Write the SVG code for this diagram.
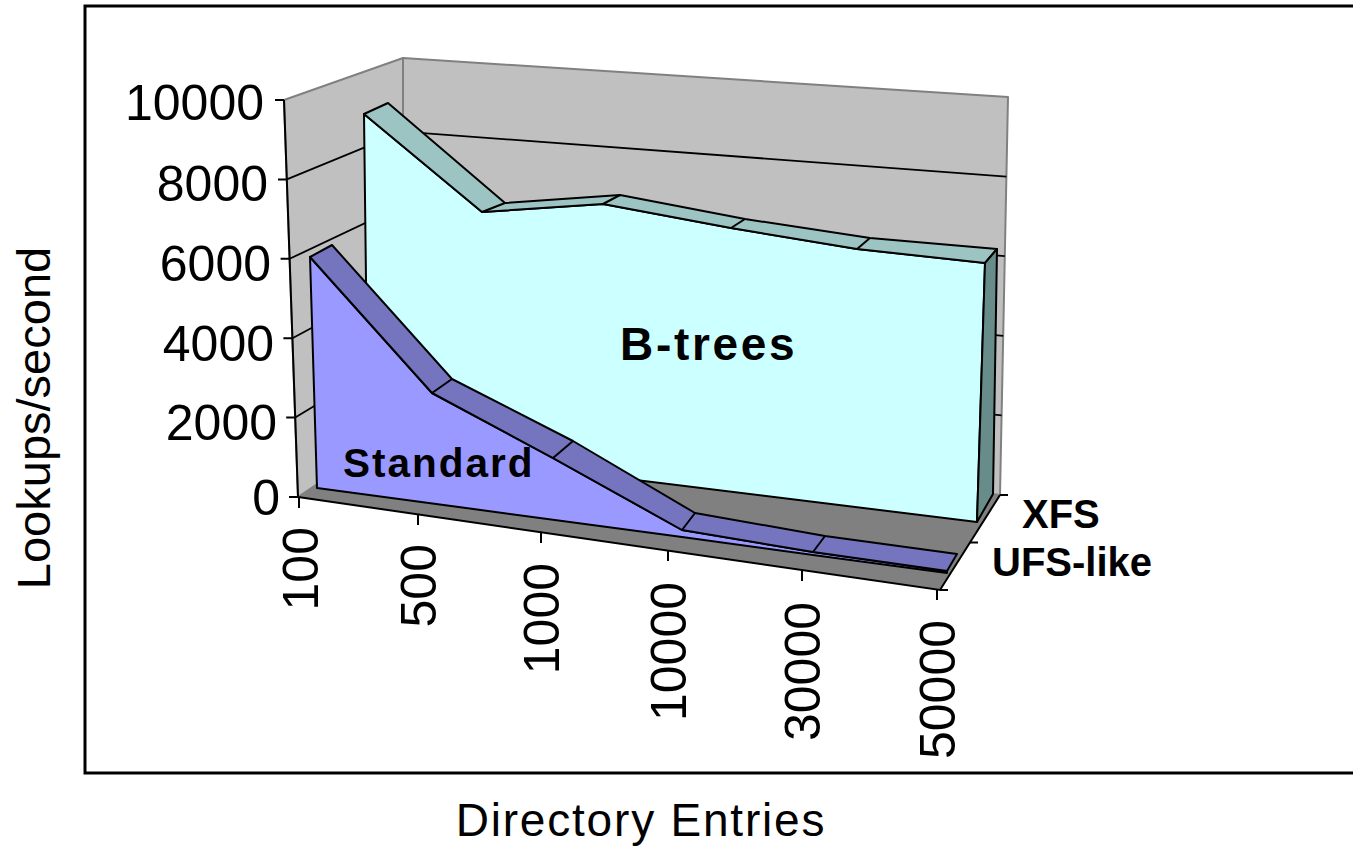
<svg xmlns="http://www.w3.org/2000/svg" width="1353" height="846" viewBox="0 0 1353 846">
<style>
text{font-family:"Liberation Sans",Arial,sans-serif;fill:#000}
.tk{font-size:50px}
.bold{font-weight:bold}
.wall{fill:#C0C0C0;stroke:#808080;stroke-width:2;stroke-linejoin:round}
.floor{fill:#808080;stroke:none}
.grid{stroke:#000;stroke-width:1.8;fill:none}
.edge{stroke:#000;stroke-width:2;stroke-linejoin:round}
.ax{stroke:#000;stroke-width:2;fill:none}
</style>
<rect id="frame" x="85" y="6" width="1300" height="767" fill="#fff" stroke="#000" stroke-width="3"/>
<g id="walls">
<polygon class="wall" points="284,100 403,58 403,426 298,497"/>
<polygon class="wall" points="403,58 1008,97 1000,495 403,426"/>
<polygon class="floor" points="298,497 403,426 1000,495 940,590"/>
</g>
<g id="gridlines">
<polyline class="grid" points="286.8,179.4 403,131.6 1006.4,176.6"/>
<polyline class="grid" points="289.6,258.8 403,205.2 1004.8,256.2"/>
<polyline class="grid" points="292.4,338.2 403,278.8 1003.2,335.8"/>
<polyline class="grid" points="295.2,417.6 403,352.4 1001.6,415.4"/>
</g>
<g id="series-btrees">
<polygon class="edge" fill="#CCFFFF" points="364,114 482,212 603,204 731,228 857,249 985,263 977,522 368,447"/>
<polygon class="edge" fill="#9CC4C2" points="364,114 388,103 505,203 620,195 745,219 870,238 997,249 985,263 857,249 731,228 603,204 482,212"/>
<polygon class="edge" fill="#678C89" points="985,263 997,249 993,494 977,522"/>
<path class="edge" fill="none" d="M482,212 L505,203 M603,204 L620,195 M731,228 L745,219 M857,249 L870,238"/>
</g>
<g id="series-standard">
<polygon class="edge" fill="#9999FF" points="310,257 432,393 553,458 682,530 813,552 947,571 947,573 813,555 682,537 317,488"/>
<polygon class="edge" fill="#7474BF" points="310,257 332,245 452,379 573,441 695,513 825,536 957,554 947,571 813,552 682,530 553,458 432,393"/>
<path class="edge" fill="none" d="M432,393 L452,379 M553,458 L573,441 M682,530 L695,513 M813,552 L825,536"/>
</g>
<g id="axes">
<path class="ax" d="M284,100 L298,497 M298,497 L940,590 L1000,495"/>
<path class="ax" d="M275,100 H284 M278,179.4 H286.8 M280.6,258.8 H289.6 M283.4,338.2 H292.4 M286.2,417.6 H295.2 M289,497 H298"/>
<path class="ax" d="M299,497 V508 M418,514.4 V525 M541,532.2 V543 M668,550.6 V561 M802,570 V581 M937,589.6 V600"/>
<path class="ax" d="M940,590 H948 M970,542.5 H978 M1000,495 H1008"/>
</g>
<g id="labels">
<text class="tk" x="264" y="120" text-anchor="end">10000</text>
<text class="tk" x="268" y="201" text-anchor="end">8000</text>
<text class="tk" x="271" y="281" text-anchor="end">6000</text>
<text class="tk" x="274" y="361" text-anchor="end">4000</text>
<text class="tk" x="277" y="440" text-anchor="end">2000</text>
<text class="tk" x="280" y="515" text-anchor="end">0</text>
<text class="tk" text-anchor="end" transform="translate(318,527) rotate(-90)">100</text>
<text class="tk" text-anchor="end" transform="translate(436,544) rotate(-90)">500</text>
<text class="tk" text-anchor="end" transform="translate(559,563) rotate(-90)">1000</text>
<text class="tk" text-anchor="end" transform="translate(686,582) rotate(-90)">10000</text>
<text class="tk" text-anchor="end" transform="translate(820,602) rotate(-90)">30000</text>
<text class="tk" text-anchor="end" transform="translate(955,620) rotate(-90)">50000</text>
<text class="bold" x="1022" y="528" font-size="40">XFS</text>
<text class="bold" x="992" y="576" font-size="40">UFS-like</text>
<text class="bold" x="620" y="360" font-size="46" letter-spacing="2.7">B-trees</text>
<text class="bold" x="343" y="477" font-size="40.5" letter-spacing="2">Standard</text>
<text font-size="47" text-anchor="middle" transform="translate(50,418) rotate(-90)">Lookups/second</text>
<text font-size="46" x="641" y="836" text-anchor="middle" letter-spacing="1.8">Directory Entries</text>
</g>
</svg>
